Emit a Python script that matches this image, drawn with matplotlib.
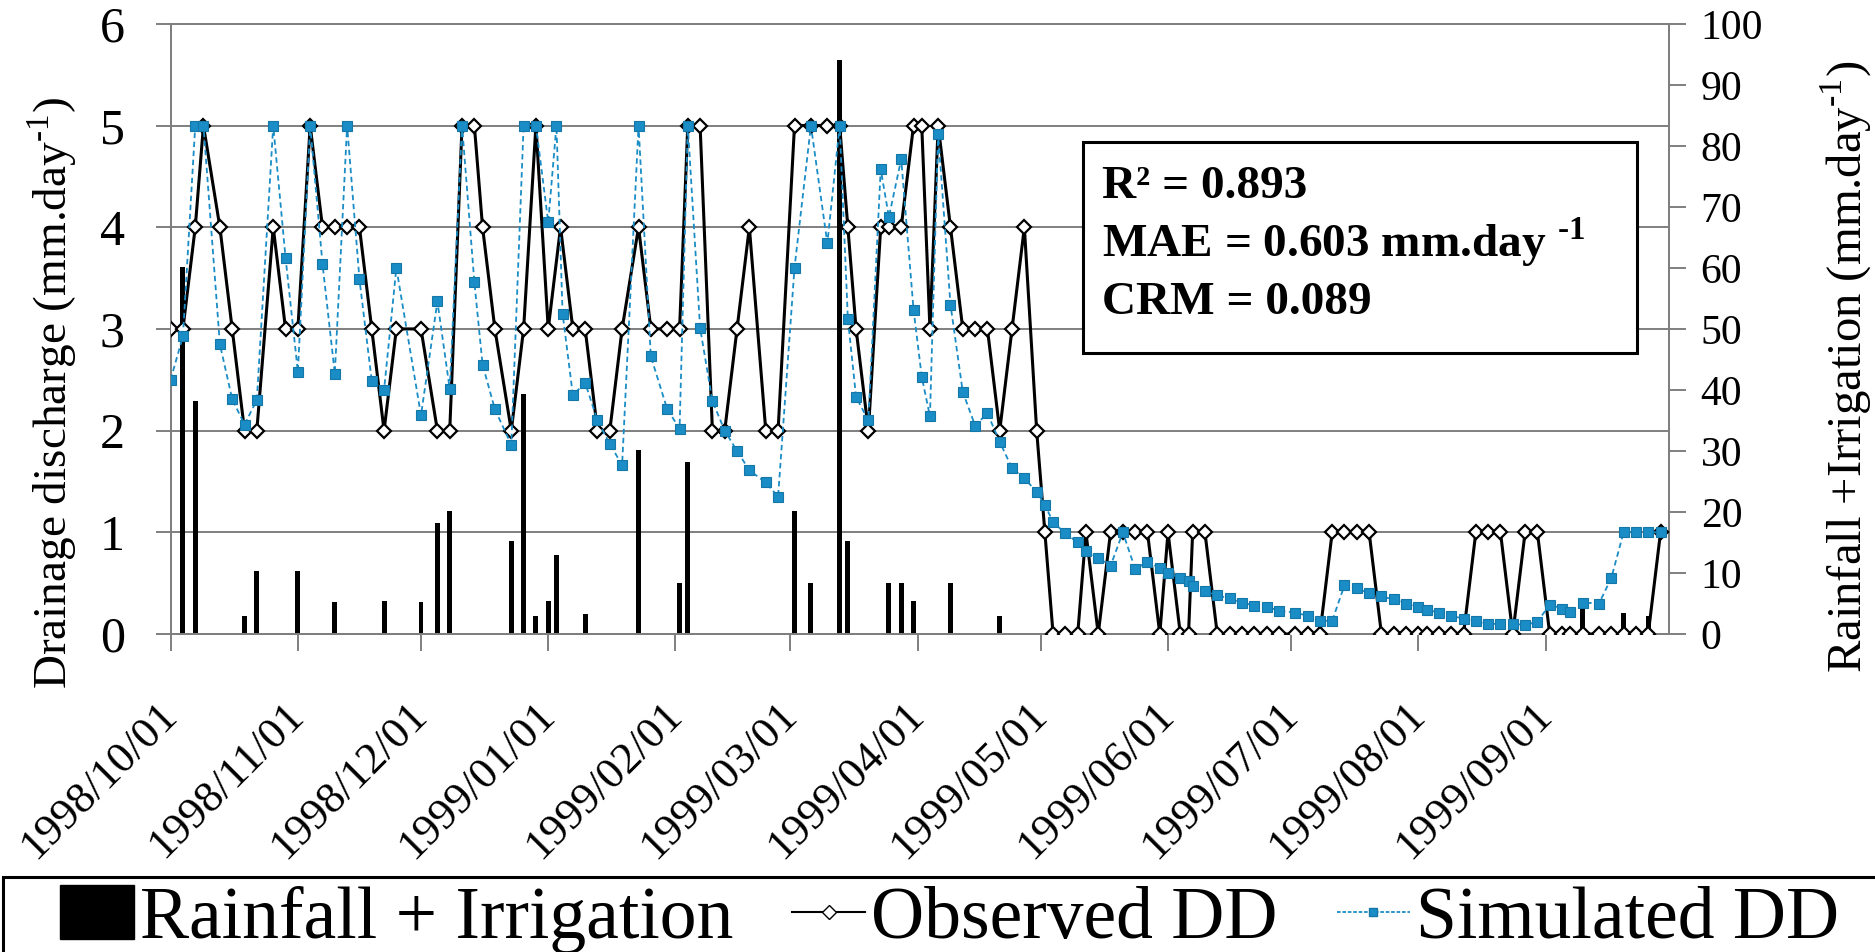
import matplotlib
matplotlib.use("Agg")
import matplotlib.pyplot as plt
import pandas as pd
from matplotlib.lines import Line2D
from matplotlib.patches import Patch, Rectangle

plt.rcParams['font.family'] = ['Liberation Serif', 'DejaVu Serif']
plt.rcParams['mathtext.fontset'] = 'custom'
plt.rcParams['mathtext.rm'] = 'Liberation Serif'
plt.rcParams['mathtext.bf'] = 'Liberation Serif:bold'

start = pd.Timestamp('1998-10-01')

# observed drainage discharge (day offset from 1998/10/01, mm/day)
obs_day = [0, 3, 6, 8, 12, 15, 18, 21, 25, 28, 31, 34, 37, 40, 43, 46, 49, 52, 55, 61,
           65, 68, 71, 74, 76, 79, 83, 86, 89, 92, 95, 98, 101, 104, 107, 110, 114, 117, 121, 124,
           126, 129, 132, 135, 138, 141, 145, 148, 152, 156, 160, 163, 165, 167, 170, 173, 175, 178, 181, 183,
           185, 187, 190, 193, 196, 199, 202, 205, 208, 211, 213, 215, 218, 221, 223, 226, 229, 232, 235, 238,
           241, 243, 246, 248, 249, 252, 255, 258, 261, 264, 267, 270, 274, 277, 280, 283, 286, 289, 292, 295,
           298, 301, 304, 306, 309, 312, 315, 318, 321, 324, 327, 330, 333, 336, 339, 341, 344, 348, 351, 354,
           357, 360, 363]
obs_dd = [3, 3, 4, 5, 4, 3, 2, 2, 4, 3, 3, 5, 4, 4, 4, 4, 3, 2, 3, 3,
          2, 2, 5, 5, 4, 3, 2, 3, 5, 3, 4, 3, 3, 2, 2, 3, 4, 3, 3, 3,
          5, 5, 2, 2, 3, 4, 2, 2, 5, 5, 5, 5, 4, 3, 2, 4, 4, 4, 5, 5,
          3, 5, 4, 3, 3, 3, 2, 3, 4, 2, 1, 0, 0, 0, 1, 0, 1, 1, 1, 1,
          0, 1, 0, 0, 1, 1, 0, 0, 0, 0, 0, 0, 0, 0, 0, 1, 1, 1, 1, 0,
          0, 0, 0, 0, 0, 0, 0, 1, 1, 1, 0, 1, 1, 0, 0, 0, 0, 0, 0, 0,
          0, 0, 1]

# simulated drainage discharge
sim_day = [0, 3, 6, 8, 12, 15, 18, 21, 25, 28, 31, 34, 37, 40, 43, 46, 49, 52, 55, 61,
           65, 68, 71, 74, 76, 79, 83, 86, 89, 92, 94, 95.5, 98, 101, 104, 107, 110, 114, 117, 121,
           124, 126, 129, 132, 135, 138, 141, 145, 148, 152, 156, 160, 163, 165, 167, 170, 173, 175, 178, 181,
           183, 185, 187, 190, 193, 196, 199, 202, 205, 208, 211, 213, 215, 218, 221, 223, 226, 229, 232, 235,
           238, 241, 243, 246, 248, 249, 252, 255, 258, 261, 264, 267, 270, 274, 277, 280, 283, 286, 289, 292,
           295, 298, 301, 304, 306, 309, 312, 315, 318, 321, 324, 327, 330, 333, 336, 339, 341, 344, 348, 351,
           354, 357, 360, 363]
sim_dd = [2.50, 2.93, 5, 5, 2.85, 2.31, 2.06, 2.30, 5, 3.70, 2.58, 5, 3.64, 2.56, 5, 3.49, 2.49, 2.40, 3.60, 2.15,
          3.27, 2.41, 5, 3.46, 2.65, 2.21, 1.86, 5, 5, 4.05, 5, 3.15, 2.35, 2.47, 2.10, 1.87, 1.66, 5, 2.73, 2.21,
          2.02, 5, 3.01, 2.29, 2.00, 1.80, 1.61, 1.49, 1.35, 3.60, 5, 3.84, 5, 3.10, 2.33, 2.10, 4.57, 4.10, 4.67, 3.19,
          2.53, 2.14, 4.92, 3.24, 2.38, 2.05, 2.17, 1.89, 1.63, 1.53, 1.40, 1.27, 1.10, 0.99, 0.90, 0.82, 0.75, 0.67, 1.0, 0.64,
          0.71, 0.65, 0.60, 0.55, 0.52, 0.47, 0.42, 0.38, 0.35, 0.31, 0.28, 0.27, 0.23, 0.21, 0.18, 0.13, 0.13, 0.48, 0.45, 0.40,
          0.37, 0.34, 0.30, 0.27, 0.24, 0.21, 0.18, 0.15, 0.13, 0.10, 0.10, 0.10, 0.09, 0.12, 0.29, 0.25, 0.22, 0.31, 0.30, 0.55,
          1.0, 1.0, 1.0, 1.0]

# rainfall + irrigation (mm/day)
rain_day = [3, 6, 18, 21, 31, 40, 52, 61, 65, 68, 83, 86, 89, 92, 94, 101, 114, 124, 126, 152,
            156, 163, 165, 175, 178, 181, 190, 202, 344, 354, 360]
rain_mm = [60.1, 38.2, 2.9, 10.3, 10.3, 5.3, 5.4, 5.3, 18.2, 20.2, 15.3, 39.3, 2.9, 5.4, 12.9, 3.3, 30.2, 8.3, 28.2, 20.2,
           8.3, 94.0, 15.3, 8.3, 8.3, 5.4, 8.3, 2.9, 4.4, 3.4, 2.9]

months = pd.date_range('1998-10-01', '1999-09-01', freq='MS')
month_pos = [(m - start).days for m in months]
month_lab = [m.strftime('%Y/%m/%d') for m in months]

gray = '#7f7f7f'
blue = '#1a8dc6'
hy = '\u2010'  # short hyphen for the unit exponent

fig = plt.figure(figsize=(18.75, 9.52), dpi=100)
ax = fig.add_axes([0.091, 0.334, 0.799, 0.641])
ax2 = ax.twinx()
ax.set_zorder(ax2.get_zorder() + 1)
ax.patch.set_visible(False)

# bars + grid on right axis (behind lines)
ax2.hlines([v * 100 / 6 for v in range(1, 7)], 0, 365, color=gray, lw=1.4, zorder=0)
ax2.bar(rain_day, rain_mm, width=1.2, color='black', zorder=2)
ax2.set_ylim(0, 100)
ax2.set_yticks(range(0, 101, 10))
ax2.tick_params(axis='y', length=12, width=1.4, color=gray, labelsize=30, pad=11)
ax2.set_ylabel('Rainfall +Irrigation (mm.day$^{\\mathregular{' + hy + '1}}$)', fontsize=35)
ax2.yaxis.set_label_coords(1.100, 0.438)

ax.plot(obs_day, obs_dd, color='black', lw=2.2, marker='D', ms=7.5, mfc='white', mec='black', mew=1.6, zorder=3)
ax.plot(sim_day, sim_dd, color=blue, lw=1.3, ls=(0, (3, 2)), marker='s', ms=6.5, mfc=blue, mec='#1577a8', mew=0.8, zorder=4)

ax.set_xlim(0, 365)
ax.set_ylim(0, 6)
ax.set_yticks(range(0, 7))
ax.tick_params(axis='y', length=11, width=1.4, color=gray, labelsize=36, pad=22)
ax.set_xticks(month_pos)
ax.set_xticklabels(month_lab, rotation=45, ha='right', va='center', rotation_mode='anchor')
ax.tick_params(axis='x', length=12, width=1.4, color=gray, labelsize=32, pad=42)
ax.set_ylabel('Drainage discharge (mm.day$^{\\mathregular{' + hy + '1}}$)', fontsize=34)
ax.yaxis.set_label_coords(-0.061, 0.395)

for a in (ax, ax2):
    for s in a.spines.values():
        s.set_color(gray)
        s.set_linewidth(1.4)

# stats box
ax.add_patch(Rectangle((0.609, 0.461), 0.37, 0.346, transform=ax.transAxes,
                       facecolor='white', edgecolor='black', lw=2.2, zorder=5))
stats = ['R² = 0.893', 'MAE = 0.603 mm.day $^{\\mathbf{' + hy + '1}}$', 'CRM = 0.089']
for txt, yy in zip(stats, [0.714, 0.618, 0.525]):
    ax.text(0.622, yy, txt, transform=ax.transAxes, fontsize=34, fontweight='bold',
            va='baseline', ha='left', zorder=6)

# legend box at the bottom
fig.patches.append(Rectangle((0.0015, -0.05), 1.2, 0.05 + 75 / 952, transform=fig.transFigure,
                             facecolor='none', edgecolor='black', lw=2.2))
handles = [Patch(facecolor='black', edgecolor='black'),
           Line2D([], [], color='black', lw=1.5, marker='D', ms=7, mfc='white', mec='black'),
           Line2D([], [], color=blue, lw=1.3, ls=(0, (2, 1)), marker='s', ms=6, mfc=blue, mec='#1577a8')]
labels = ['Rainfall + Irrigation', 'Observed DD', 'Simulated DD']
fig.legend(handles, labels, loc='upper left', bbox_to_anchor=(0.032, 0.070), frameon=False,
           ncol=3, fontsize=53, handlelength=1.0, handleheight=0.75, handletextpad=0.08,
           columnspacing=0.8, borderpad=0, borderaxespad=0)

fig.savefig('out.png', dpi=100)
